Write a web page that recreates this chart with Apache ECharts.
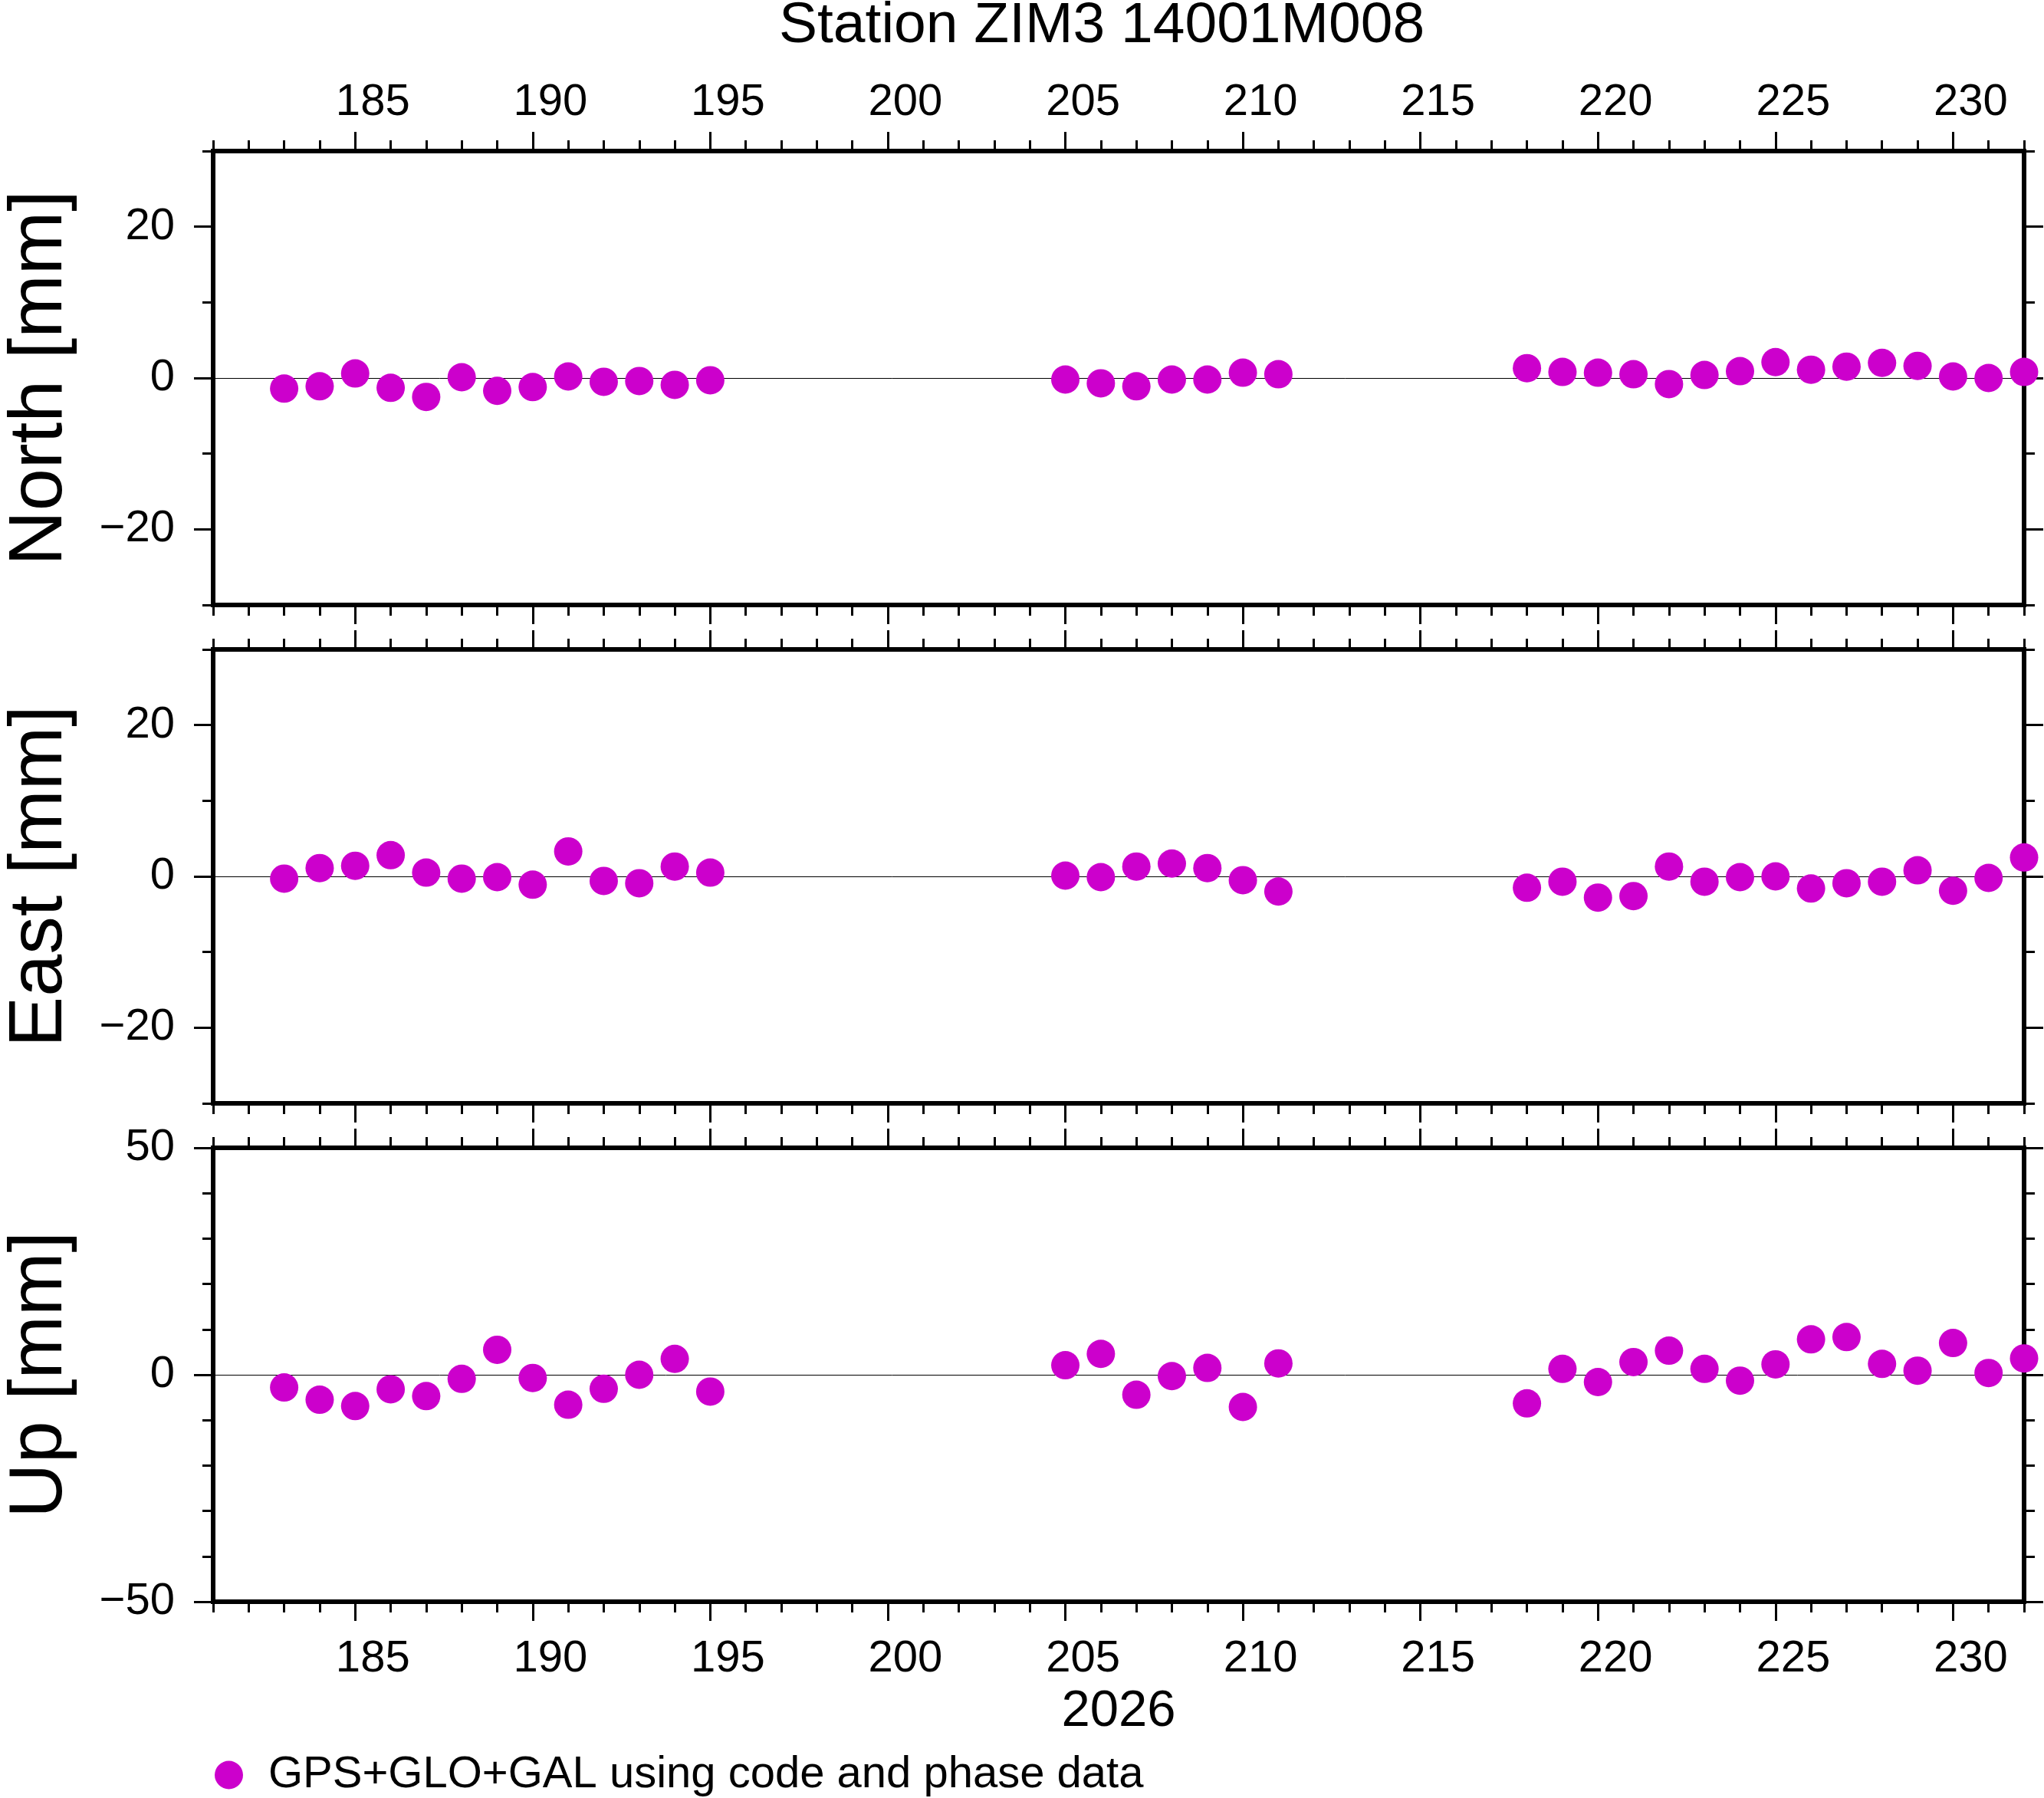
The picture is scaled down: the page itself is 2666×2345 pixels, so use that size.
<!DOCTYPE html>
<html>
<head>
<meta charset="utf-8">
<script src="https://cdn.jsdelivr.net/npm/echarts@6/dist/echarts.min.js"></script>
<style>
html, body { margin: 0; padding: 0; background: #fff; }
#main { width: 2666px; height: 2345px; }
</style>
</head>
<body>
<div id="main"></div>
<script>
var days  = [183,184,185,186,187,188,189,190,191,192,193,194,195,
             205,206,207,208,209,210,211,
             218,219,220,221,222,223,224,225,226,227,228,229,230,231,232];
var north = [-1.4,-1.1,0.6,-1.3,-2.5,0.1,-1.7,-1.2,0.2,-0.5,-0.4,-0.9,-0.3,
             -0.2,-0.7,-1.1,-0.2,-0.2,0.7,0.5,
             1.3,0.8,0.7,0.5,-0.8,0.4,0.9,2.1,1.1,1.5,2.0,1.6,0.2,0.0,0.8];
var east  = [-0.3,1.1,1.4,2.8,0.5,-0.3,-0.1,-1.1,3.3,-0.6,-0.9,1.3,0.5,
             0.1,-0.1,1.3,1.7,1.1,-0.5,-2.0,
             -1.5,-0.7,-2.8,-2.6,1.3,-0.7,-0.1,0.0,-1.6,-0.9,-0.7,0.8,-1.9,-0.2,2.5];
var up    = [-2.8,-5.5,-6.9,-3.2,-4.7,-0.9,5.5,-0.7,-6.6,-3.1,0.0,3.5,-3.7,
             2.1,4.6,-4.4,-0.3,1.5,-7.1,2.5,
             -6.3,1.3,-1.6,2.8,5.3,1.3,-1.3,2.3,7.8,8.3,2.4,0.9,7.0,0.4,3.6];

var majorDays = [185,190,195,200,205,210,215,220,225,230];
var panelNames = ['North [mm]', 'East [mm]', 'Up [mm]'];
var panelRange = [[-30,30], [-30,30], [-50,50]];
var panelMajor = [[-20,0,20], [-20,0,20], [-50,0,50]];
var seriesName = 'GPS+GLO+GAL using code and phase data';
var title = 'Station ZIM3 14001M008';
var yearLabel = '2026';

var gridTops = [197, 847, 1497];
var gridH = 592;
var dotColor = '#cc00cc';
var fontFam = 'Liberation Sans, Arial, sans-serif';

function minus(v) { return String(v).replace('-', '\u2212'); }

var grids = [], xAxes = [], yAxes = [], series = [];
var values = [north, east, up];
var tickStyle = { color: '#000', width: 3 };

for (var g = 0; g < 3; g++) {
  grids.push({
    left: 278, right: 26, top: gridTops[g], height: gridH,
    containLabel: false, outerBoundsMode: 'none',
    show: true, borderColor: '#000', borderWidth: 6, backgroundColor: 'transparent'
  });
  ['top', 'bottom'].forEach(function (pos) {
    var showLab = (pos === 'top' && g === 0) || (pos === 'bottom' && g === 2);
    xAxes.push({
      gridIndex: g, type: 'value', position: pos, min: 181, max: 232,
      axisLine: { show: false, onZero: false },
      splitLine: { show: false },
      axisTick: { show: true, customValues: majorDays, length: 25, lineStyle: tickStyle },
      axisLabel: {
        show: showLab, customValues: majorDays, fontSize: 58, color: '#000',
        margin: pos === 'top' ? 34 : 46, padding: [0, 0, 0, 46]
      },
      name: (pos === 'bottom' && g === 2) ? yearLabel : '',
      nameLocation: 'middle', nameGap: 110,
      nameTextStyle: { fontSize: 67, color: '#000' }
    });
    xAxes.push({
      gridIndex: g, type: 'value', position: pos, min: 181, max: 232, interval: 1,
      axisLine: { show: false, onZero: false },
      splitLine: { show: false },
      axisTick: { show: true, length: 14, lineStyle: tickStyle },
      axisLabel: { show: false }
    });
  });
  ['left', 'right'].forEach(function (pos) {
    var r = panelRange[g];
    yAxes.push({
      gridIndex: g, type: 'value', position: pos, min: r[0], max: r[1],
      axisLine: { show: false, onZero: false },
      splitLine: { show: false },
      axisTick: { show: true, customValues: panelMajor[g], length: 25, lineStyle: tickStyle },
      axisLabel: {
        show: pos === 'left', customValues: panelMajor[g], fontSize: 58, color: '#000',
        margin: 50, formatter: minus
      },
      name: pos === 'left' ? panelNames[g] : '',
      nameLocation: 'middle', nameGap: 176,
      nameTextStyle: { fontSize: 99, color: '#000' }
    });
    yAxes.push({
      gridIndex: g, type: 'value', position: pos, min: r[0], max: r[1], interval: 10,
      axisLine: { show: false, onZero: false },
      splitLine: { show: false },
      axisTick: { show: true, length: 14, lineStyle: tickStyle },
      axisLabel: { show: false }
    });
  });
  series.push({
    name: seriesName, type: 'scatter', xAxisIndex: g * 4, yAxisIndex: g * 4,
    symbol: 'circle', symbolSize: 37, clip: false, z: 10,
    itemStyle: { color: dotColor, opacity: 1 },
    data: days.map(function (d, i) { return [d, values[g][i]]; }),
    markLine: {
      silent: true, symbol: ['none', 'none'], label: { show: false },
      lineStyle: { color: '#000', width: 1, type: 'solid' },
      data: [{ yAxis: 0 }]
    }
  });
}

var chart = echarts.init(document.getElementById('main'), null, { renderer: 'canvas' });
chart.setOption({
  animation: false,
  backgroundColor: '#fff',
  textStyle: { fontFamily: fontFam },
  title: {
    text: title, left: 1011, top: -8,
    textStyle: { fontSize: 75, fontWeight: 'normal', color: '#000', fontFamily: fontFam }
  },
  legend: {
    data: [seriesName], left: 275, top: 2281, icon: 'circle',
    itemWidth: 37, itemHeight: 37,
    textStyle: { fontSize: 58, color: '#000', padding: [0, 0, 0, 28] }
  },
  grid: grids,
  xAxis: xAxes,
  yAxis: yAxes,
  series: series
});
</script>
</body>
</html>
